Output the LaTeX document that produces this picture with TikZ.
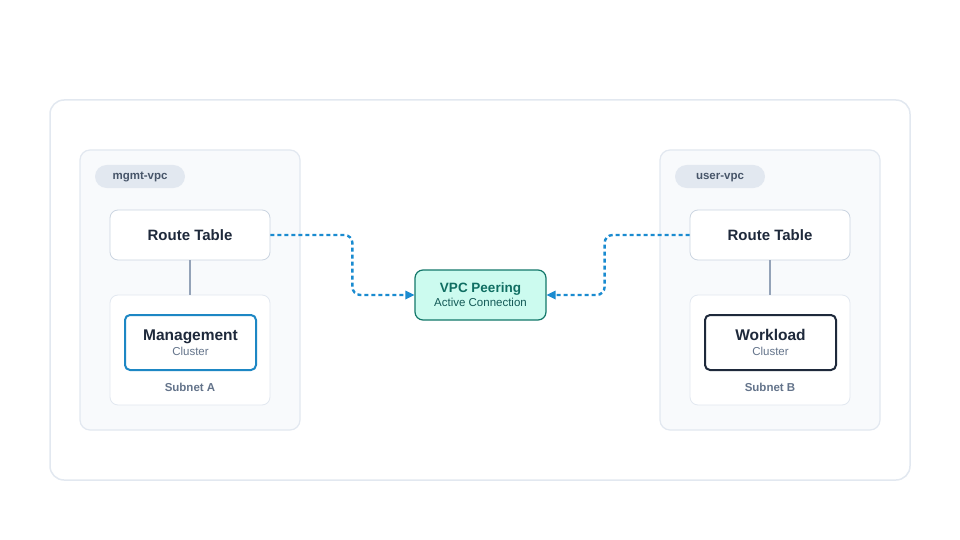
\documentclass[tikz,border=0pt]{standalone}
\usepackage{fontspec}
\setmainfont{Liberation Sans}
\usetikzlibrary{arrows.meta}
\definecolor{frameline}{HTML}{E2E8F0}
\definecolor{vpcfill}{HTML}{F8FAFC}
\definecolor{pillfill}{HTML}{E2E8F0}
\definecolor{pilltext}{HTML}{475569}
\definecolor{boxline}{HTML}{CBD5E1}
\definecolor{linkline}{HTML}{94A3B8}
\definecolor{ink}{HTML}{1E293B}
\definecolor{mute}{HTML}{64748B}
\definecolor{flowblue}{HTML}{1A8BD0}
\definecolor{mgmtblue}{HTML}{1D87C4}
\definecolor{peerfill}{HTML}{CCFBEF}
\definecolor{peerline}{HTML}{13786A}
\definecolor{peertext}{HTML}{0F6E62}
\tikzset{
  vpcbox/.style={draw=frameline,fill=vpcfill,line width=1.2pt,rounded corners=10pt},
  pill/.style={fill=pillfill,rounded corners=11.5pt,minimum width=90pt,minimum height=23pt,
    text height=8.5pt,text depth=2.5pt,
    text=pilltext,font=\bfseries\fontsize{11.5}{13}\selectfont},
  routebox/.style={draw=boxline,fill=white,line width=0.8pt,rounded corners=8pt,
    minimum width=160pt,minimum height=50pt,text=ink,font=\bfseries\fontsize{15}{17}\selectfont},
  subnetbox/.style={draw=frameline,fill=white,line width=0.8pt,rounded corners=8pt},
  cluster/.style={draw=#1,fill=white,line width=2pt,rounded corners=5pt,
    minimum width=131pt,minimum height=55pt,align=center,text=ink,inner sep=0pt},
  subcap/.style={text=mute,font=\bfseries\fontsize{11.5}{13}\selectfont},
  peer/.style={draw=peerline,fill=peerfill,line width=1.2pt,rounded corners=8pt,
    minimum width=131pt,minimum height=50pt,align=center,inner sep=0pt},
  link/.style={draw=linkline,line width=1.2pt},
  flow/.style={draw=flowblue,line width=2.4pt,dash pattern=on 4pt off 3pt,rounded corners=8pt,
    -{Triangle[length=9pt,width=9pt,fill=flowblue,line width=0pt,sep=0pt]}},
}
\newcommand{\clustertext}[2]{{\bfseries\fontsize{15.5}{17}\selectfont #1}\\[3pt]{\color{mute}\fontsize{11.5}{13}\selectfont #2}}
\begin{document}
\begin{tikzpicture}[x=1pt,y=-1pt,line join=round]
  \useasboundingbox (0,0) rectangle (960,540);
  % outer frame
  \draw[draw=frameline,fill=white,line width=1.5pt,rounded corners=14pt] (50,100) rectangle (910,480);
  % the two vpcs
  \foreach \x/\n/\s/\c/\w/\k in {80/mgmt-vpc/A/mgmtblue/Management/L,660/user-vpc/B/ink/Workload/R}{
    \draw[vpcbox] (\x,150) rectangle ++(220,280);
    \node[pill] (pill\k) at (\x+60,176.5) {\n};
    \node[routebox] (rt\k) at (\x+110,235) {Route Table};
    \draw[subnetbox] (\x+30,295) rectangle ++(160,110);
    \coordinate (sub\k) at (\x+110,295);
    \node[cluster=\c] (cl\k) at (\x+110.5,342.5) {\clustertext{\w}{Cluster}};
    \node[subcap] (cap\k) at (\x+110,387) {Subnet \s};
    \draw[link] (rt\k.south) -- (sub\k);
  }
  % peering
  \node[peer] (peer) at (480.5,295) {{\color{peertext}\bfseries\fontsize{13.5}{15}\selectfont VPC Peering}\\[2pt]{\color{peertext!70!ink}\fontsize{11.5}{13}\selectfont Active Connection}};
  \draw[flow] (rtL.east) -- ++(82,0) |- (peer.west);
  \draw[flow] (rtR.west) -- ++(-85,0) |- (peer.east);
\end{tikzpicture}
\end{document}
